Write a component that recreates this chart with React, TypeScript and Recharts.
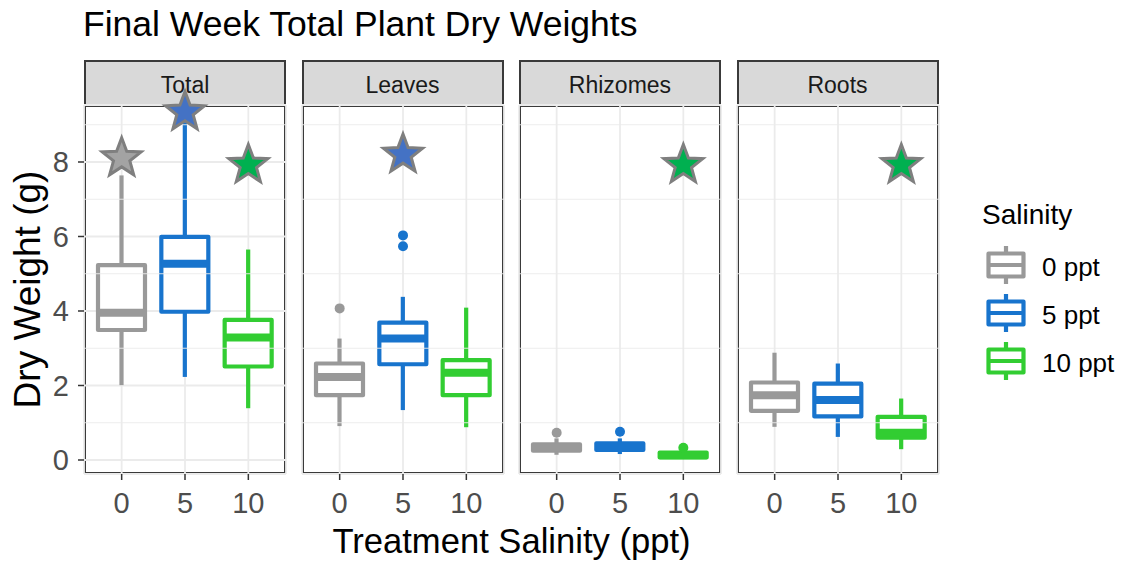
import {
  Bar,
  CartesianGrid,
  ComposedChart,
  ReferenceLine,
  Scatter,
  XAxis,
  YAxis,
} from "recharts";

const FONT = '"Liberation Sans", Arial, sans-serif';

const PARTS = ["Total", "Leaves", "Rhizomes", "Roots"];
const SALINITY = ["0", "5", "10"];
const COLORS = ["#999999", "#1874CD", "#32CD32"];
const STAR_FILLS = ["#A3A3A3", "#4472C4", "#00B050"];

// one row per part (Total, Leaves, Rhizomes, Roots), one value per salinity
const WHISKER_LOW = [
  [2.01, 2.23, 1.39],
  [0.91, 1.34, 0.88],
  [0.14, 0.16, 0.03],
  [0.89, 0.62, 0.29],
];
const Q1 = [
  [3.49, 3.98, 2.51],
  [1.74, 2.57, 1.74],
  [0.25, 0.27, 0.07],
  [1.32, 1.17, 0.6],
];
const MEDIAN = [
  [3.95, 5.27, 3.29],
  [2.23, 3.26, 2.34],
  [0.33, 0.36, 0.13],
  [1.74, 1.61, 0.73],
];
const Q3 = [
  [5.23, 5.99, 3.76],
  [2.59, 3.69, 2.68],
  [0.42, 0.45, 0.2],
  [2.08, 2.05, 1.16],
];
const WHISKER_HIGH = [
  [7.64, 9.07, 5.65],
  [3.26, 4.38, 4.09],
  [0.58, 0.58, 0.28],
  [2.88, 2.59, 1.65],
];
const OUTLIER_A = [
  [null, null, null],
  [4.07, 6.03, null],
  [0.73, 0.76, 0.33],
  [null, null, null],
];
const OUTLIER_B = [
  [null, null, null],
  [null, 5.74, null],
  [null, null, null],
  [null, null, null],
];
const STARS = [
  [8.1, 9.34, 7.92],
  [null, 8.2, null],
  [null, null, 7.92],
  [null, null, 7.92],
];

const Y_MAJOR = [0, 2, 4, 6, 8];
const Y_MINOR = [1, 3, 5, 7, 9];
const Y_DOMAIN = [-0.376, 9.53];

const PANEL_LEFT = [84, 301.5, 519, 736.5];
const PANEL_W = 202;
const PANEL_TOP = 105;
const PANEL_H = 369;
const LW = 4.2;

function BoxShape(props: any) {
  const { x, y, width, height, payload } = props;
  if (!payload) return <g />;
  const color = COLORS[SALINITY.indexOf(payload.sal)];
  const [lo, hi] = payload.range;
  const top = Math.min(y, y + height);
  const bot = Math.max(y, y + height);
  const yOf = (v: number) => bot - ((v - lo) / (hi - lo)) * (bot - top);
  const cx = x + width / 2;
  return (
    <g>
      <line x1={cx} x2={cx} y1={yOf(hi)} y2={yOf(payload.q3)} stroke={color} strokeWidth={LW} />
      <line x1={cx} x2={cx} y1={yOf(payload.q1)} y2={yOf(lo)} stroke={color} strokeWidth={LW} />
      <rect
        x={x}
        y={yOf(payload.q3)}
        width={width}
        height={yOf(payload.q1) - yOf(payload.q3)}
        fill="#fff"
        stroke={color}
        strokeWidth={LW}
        strokeLinejoin="round"
      />
      <line
        x1={x}
        x2={x + width}
        y1={yOf(payload.med)}
        y2={yOf(payload.med)}
        stroke={color}
        strokeWidth={LW * 1.9}
      />
    </g>
  );
}

const dotShape = (key: string) => (props: any) => {
  const p = props.payload;
  if (!p || p[key] == null) return <g />;
  return <circle cx={props.cx} cy={props.cy} r={5} fill={COLORS[SALINITY.indexOf(p.sal)]} />;
};

function StarShape(props: any) {
  const p = props.payload;
  if (!p || p.star == null) return <g />;
  const R = 20.5;
  const r = R * 0.42;
  const pts = [];
  for (let k = 0; k < 10; k++) {
    const a = ((-90 + k * 36) * Math.PI) / 180;
    const rad = k % 2 === 0 ? R : r;
    pts.push(`${props.cx + rad * Math.cos(a)},${props.cy + rad * Math.sin(a)}`);
  }
  return (
    <polygon
      points={pts.join(" ")}
      fill={STAR_FILLS[SALINITY.indexOf(p.sal)]}
      stroke="#7F7F7F"
      strokeWidth={3}
      strokeLinejoin="miter"
    />
  );
}

function Panel({ idx }: { idx: number }) {
  const rows = SALINITY.map((s, i) => ({
    sal: s,
    range: [WHISKER_LOW[idx][i], WHISKER_HIGH[idx][i]],
    q1: Q1[idx][i],
    med: MEDIAN[idx][i],
    q3: Q3[idx][i],
    outA: OUTLIER_A[idx][i],
    outB: OUTLIER_B[idx][i],
    star: STARS[idx][i],
  }));
  const first = idx === 0;
  const yW = first ? PANEL_LEFT[0] : 0;
  const left = PANEL_LEFT[idx] - yW;
  const tickStyle = { fill: "#4D4D4D", fontSize: 29, fontFamily: FONT };

  return (
    <div style={{ position: "absolute", left, top: PANEL_TOP }}>
      <div
        style={{
          position: "absolute",
          left: yW,
          top: 0,
          width: PANEL_W,
          height: PANEL_H,
          border: "2px solid #3a3a3a",
          boxSizing: "border-box",
          pointerEvents: "none",
        }}
      />
      <ComposedChart
        width={PANEL_W + yW}
        height={PANEL_H + 60}
        data={rows}
        margin={{ top: 0, right: 0, bottom: 0, left: 0 }}
      >
        <XAxis
          dataKey="sal"
          padding={{ left: 6, right: 6 }}
          interval={0}
          height={60}
          axisLine={false}
          tickSize={6}
          tickMargin={12}
          tickLine={{ stroke: "#333", strokeWidth: 1.5 }}
          tick={tickStyle}
        />
        <YAxis
          type="number"
          domain={Y_DOMAIN}
          ticks={Y_MAJOR}
          width={yW}
          axisLine={false}
          tickSize={6}
          tickMargin={9}
          tickLine={first ? { stroke: "#333", strokeWidth: 1.5 } : false}
          tick={first ? tickStyle : false}
        />
        {Y_MINOR.map((v) => (
          <ReferenceLine key={v} y={v} stroke="#EBEBEB" strokeWidth={0.9} />
        ))}
        <CartesianGrid stroke="#EBEBEB" strokeWidth={1.8} />
        <Bar dataKey="range" barSize={47} shape={BoxShape} isAnimationActive={false} />
        <Scatter dataKey="outA" shape={dotShape("outA")} isAnimationActive={false} />
        <Scatter dataKey="outB" shape={dotShape("outB")} isAnimationActive={false} />
        <Scatter dataKey="star" shape={StarShape} isAnimationActive={false} />
      </ComposedChart>
    </div>
  );
}

export default function App() {
  const keyTop = 265;
  const keyStep = 47.8;
  return (
    <div
      style={{
        position: "absolute",
        left: 0,
        top: 0,
        width: 1133,
        height: 561,
        background: "#fff",
        fontFamily: FONT,
        overflow: "hidden",
      }}
    >
      <style>{`.recharts-surface { overflow: visible; }`}</style>
      <div style={{ position: "absolute", left: 83, top: 6.6, fontSize: 35.5, lineHeight: 1, color: "#000", whiteSpace: "nowrap" }}>
        Final Week Total Plant Dry Weights
      </div>

      {PARTS.map((part, i) => (
        <div
          key={part}
          style={{
            position: "absolute",
            left: PANEL_LEFT[i],
            top: 60,
            width: PANEL_W,
            height: 47,
            background: "#D9D9D9",
            border: "2px solid #3a3a3a",
            boxSizing: "border-box",
            display: "flex",
            alignItems: "center",
            justifyContent: "center",
            paddingTop: 3,
            fontSize: 23,
            color: "#1A1A1A",
          }}
        >
          {part}
        </div>
      ))}

      {PARTS.map((part, i) => (
        <Panel key={part} idx={i} />
      ))}

      <div
        style={{
          position: "absolute",
          left: -123.5,
          top: 271,
          width: 300,
          fontSize: 37,
          lineHeight: 1,
          textAlign: "center",
          transform: "rotate(-90deg)",
          color: "#000",
          whiteSpace: "nowrap",
        }}
      >
        Dry Weight (g)
      </div>

      <div
        style={{
          position: "absolute",
          left: 211.5,
          top: 523.5,
          width: 600,
          fontSize: 34.6,
          lineHeight: 1,
          textAlign: "center",
          color: "#000",
        }}
      >
        Treatment Salinity (ppt)
      </div>

      <div style={{ position: "absolute", left: 982, top: 201, fontSize: 28, lineHeight: 1, color: "#000" }}>
        Salinity
      </div>
      {SALINITY.map((s, i) => {
        const cy = keyTop + i * keyStep;
        return (
          <div key={s}>
            <svg
              width={44}
              height={44}
              style={{ position: "absolute", left: 984, top: cy - 22 }}
            >
              <line x1={22} x2={22} y1={3} y2={41} stroke={COLORS[i]} strokeWidth={LW} />
              <rect
                x={4.5}
                y={10.5}
                width={35}
                height={23}
                fill="#fff"
                stroke={COLORS[i]}
                strokeWidth={LW}
                strokeLinejoin="round"
              />
              <line x1={4.5} x2={39.5} y1={22} y2={22} stroke={COLORS[i]} strokeWidth={LW} />
            </svg>
            <div
              style={{
                position: "absolute",
                left: 1042,
                top: cy - 11,
                fontSize: 26,
                lineHeight: 1,
                color: "#000",
                whiteSpace: "nowrap",
              }}
            >
              {s} ppt
            </div>
          </div>
        );
      })}
    </div>
  );
}
